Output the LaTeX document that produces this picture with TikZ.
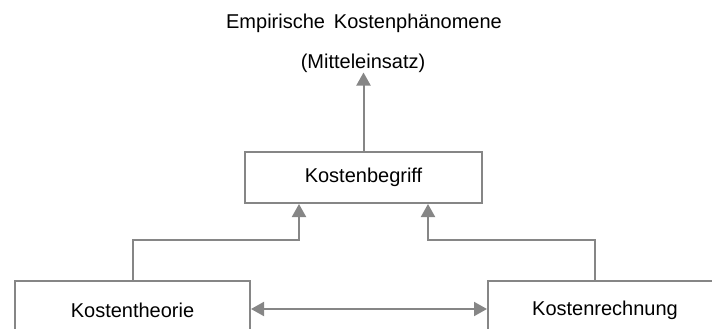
\documentclass[tikz,border=0pt]{standalone}
\usepackage{fontspec}
\setmainfont{Liberation Sans}
\usetikzlibrary{arrows.meta}
\definecolor{linegray}{HTML}{868686}
\tikzset{
  lbl/.style={inner sep=0pt, font=\fontsize{20}{24}\selectfont},
  box/.style={draw=linegray, line width=2pt, fill=white, inner sep=0pt,
              font=\fontsize{20}{24}\selectfont},
  arr/.style={draw=linegray, line width=2pt,
              -{Triangle[length=13pt,width=14pt]}},
  dblarr/.style={draw=linegray, line width=2pt,
              {Triangle[length=13pt,width=14pt]}-{Triangle[length=13pt,width=14pt]}}
}
\begin{document}
\begin{tikzpicture}[x=1pt,y=-1pt]
  \useasboundingbox (0,0) rectangle (712,329);
  \clip (0,0) rectangle (712,329);

  % headings
  \node[lbl] (emp) at (364,23) {Empirische\, Kostenphänomene};
  \node[lbl] (mit) at (363,63) {(Mitteleinsatz)};

  % boxes
  \node[box, minimum width=237pt, minimum height=51pt] (begr) at (363.5,177.5) {Kostenbegriff};
  \node[box, minimum width=235pt, minimum height=58pt] (theo) at (132.5,310) {Kostentheorie};
  \node[box, minimum width=234pt, minimum height=58pt] (rech) at (605,310) {Kostenrechnung};

  % connectors
  \coordinate (miTip) at (mit.south);
  \draw[arr] (begr.north) -- (begr.north |- miTip);
  \draw[arr] (theo.north) -- ++(0,-40) -| ([xshift=-64.5pt]begr.south);
  \draw[arr] ([xshift=-10pt]rech.north) -- ++(0,-40) -| ([xshift=64.5pt]begr.south);
  \draw[dblarr] ([yshift=1pt]theo.east) -- ([yshift=1pt]rech.west);
\end{tikzpicture}
\end{document}
